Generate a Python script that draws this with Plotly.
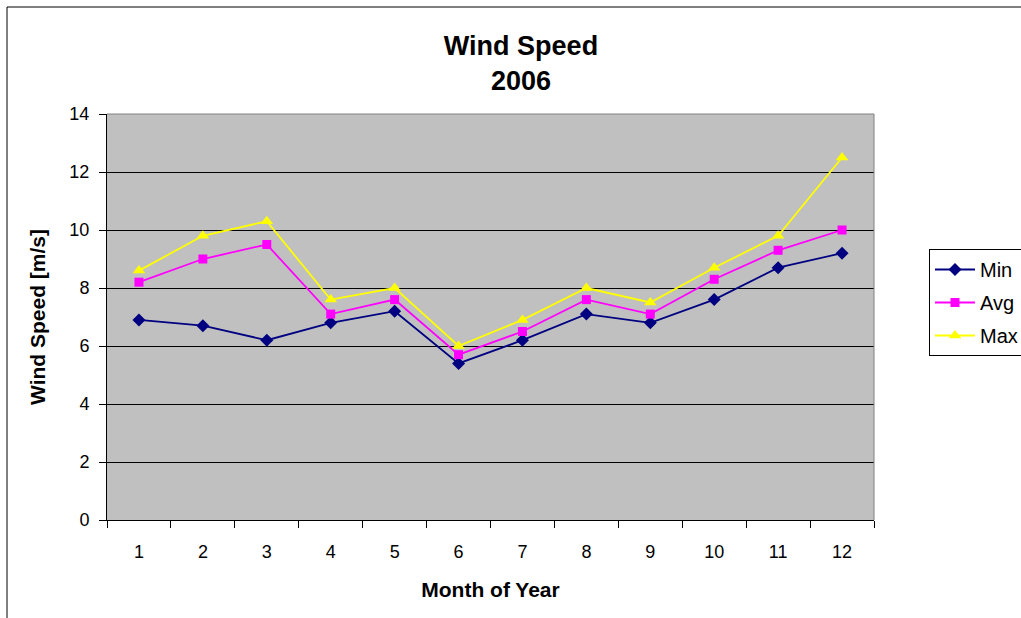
import plotly.graph_objects as go

months = [1, 2, 3, 4, 5, 6, 7, 8, 9, 10, 11, 12]
month_labels = [str(m) for m in months]
min_speed = [6.9, 6.7, 6.2, 6.8, 7.2, 5.4, 6.2, 7.1, 6.8, 7.6, 8.7, 9.2]
avg_speed = [8.2, 9.0, 9.5, 7.1, 7.6, 5.7, 6.5, 7.6, 7.1, 8.3, 9.3, 10.0]
max_speed = [8.6, 9.8, 10.3, 7.6, 8.0, 6.0, 6.9, 8.0, 7.5, 8.7, 9.8, 12.5]
y_ticks = [0, 2, 4, 6, 8, 10, 12, 14]

FONT = "Arial, Liberation Sans, sans-serif"

fig = go.Figure()
fig.add_trace(go.Scatter(x=months, y=min_speed, name="Min", mode="lines+markers",
                         legendgroup="a",
                         line=dict(color="#000080", width=1.8),
                         marker=dict(symbol="diamond", size=10, color="#000080")))
fig.add_trace(go.Scatter(x=months, y=avg_speed, name="Avg", mode="lines+markers",
                         legendgroup="b",
                         line=dict(color="#FF00FF", width=1.8),
                         marker=dict(symbol="square", size=9, color="#FF00FF")))
fig.add_trace(go.Scatter(x=months, y=max_speed, name="Max", mode="lines+markers",
                         legendgroup="c",
                         line=dict(color="#FFFF00", width=1.8),
                         marker=dict(symbol="triangle-up", size=11, color="#FFFF00")))

L, R, T, B = 107, 147, 114, 98
W, H = 1021, 618
pw, ph = W - L - R, H - T - B

def px_x(p):
    return (p - L) / pw

def px_y(p):
    return (H - B - p) / ph

fig.update_layout(
    width=W, height=H,
    margin=dict(l=L, r=R, t=T, b=B, autoexpand=False),
    paper_bgcolor="white",
    plot_bgcolor="#C0C0C0",
    font=dict(family=FONT, size=18, color="black"),
    title=dict(text="<b>Wind Speed<br>2006</b>", x=521 / W, xref="container",
               xanchor="center",
               y=1 - 55 / H, yref="container", yanchor="top",
               font=dict(size=27, family=FONT, color="black")),
    showlegend=True,
    legend=dict(x=px_x(929), y=px_y(249), xanchor="left", yanchor="top",
                bordercolor="black", borderwidth=1, bgcolor="white",
                font=dict(size=20, family=FONT), tracegroupgap=4,
                traceorder="grouped", itemwidth=40),
    xaxis=dict(range=[0.5, 12.5], tickvals=months, ticktext=month_labels,
               showgrid=False, zeroline=False, showline=True,
               linecolor="black", linewidth=1, ticks="",
               ticklabelstandoff=15,
               minor=dict(tick0=0.5, dtick=1, ticks="outside", ticklen=7,
                          tickcolor="black", showgrid=False),
               title=dict(text="<b>Month of Year</b>", standoff=21,
                          font=dict(size=21, family=FONT)),
               tickfont=dict(size=18), fixedrange=True, automargin=False),
    yaxis=dict(range=[0, 14], tickvals=y_ticks, showgrid=True,
               gridcolor="black", gridwidth=1, zeroline=False,
               showline=True, linecolor="black", linewidth=1,
               ticks="outside", ticklen=7, tickcolor="black",
               ticklabelstandoff=6,
               title=dict(text="<b>Wind Speed [m/s]</b>", standoff=18,
                          font=dict(size=21, family=FONT)),
               tickfont=dict(size=18), fixedrange=True, automargin=False),
    shapes=[
        dict(type="rect", xref="paper", yref="paper",
             x0=px_x(7), x1=px_x(1100), y0=px_y(7), y1=px_y(700),
             line=dict(color="black", width=1), layer="below"),
        dict(type="line", xref="paper", yref="paper", x0=0, x1=1, y0=1, y1=1,
             line=dict(color="#808080", width=1)),
        dict(type="line", xref="paper", yref="paper", x0=1, x1=1, y0=0, y1=1,
             line=dict(color="#808080", width=1)),
    ],
)

fig.write_html("out.html",
               config={"displayModeBar": False},
               post_script="document.body.style.margin='0';document.body.style.overflow='hidden';")
